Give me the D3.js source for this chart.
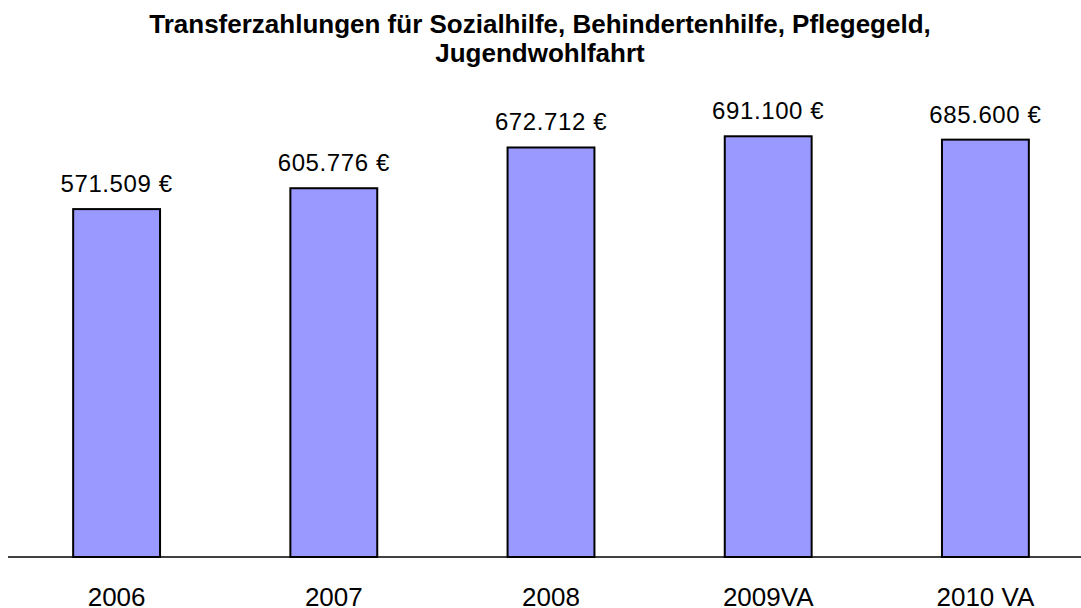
<!DOCTYPE html>
<html><head><meta charset="utf-8">
<script src="https://cdn.jsdelivr.net/npm/d3@7"></script>
<style>body{margin:0;background:#fff}svg{display:block}</style>
</head><body>
<svg id="c" width="1081" height="608"></svg>
<script>
const categories = ["2006", "2007", "2008", "2009VA", "2010 VA"];
const values = [571509, 605776, 672712, 691100, 685600];
const valueLabels = ["571.509 €", "605.776 €", "672.712 €", "691.100 €", "685.600 €"];
const titleLines = ["Transferzahlungen für Sozialhilfe, Behindertenhilfe, Pflegegeld,", "Jugendwohlfahrt"];

const svg = d3.select("#c");
const font = "Liberation Sans, Arial, sans-serif";
const baseY = 557;
const x = d3.scaleBand().domain(categories).range([8, 1094]).paddingInner(0.6).paddingOuter(0.3);
const y = d3.scaleLinear().domain([0, 800000]).range([baseY, 70]);

svg.selectAll("text.title").data(titleLines).join("text")
  .attr("class", "title")
  .attr("x", 540).attr("y", (d, i) => 33 + i * 29)
  .attr("text-anchor", "middle").attr("font-family", font)
  .attr("font-weight", "bold").attr("font-size", 26).text(d => d);

const data = categories.map((c, i) => ({c, v: values[i], l: valueLabels[i]}));

svg.selectAll("rect.bar").data(data).join("rect")
  .attr("class", "bar")
  .attr("x", d => x(d.c)).attr("y", d => y(d.v))
  .attr("width", x.bandwidth()).attr("height", d => baseY - y(d.v))
  .attr("fill", "#9999FF").attr("stroke", "#000").attr("stroke-width", 2);

svg.append("line").attr("x1", 8).attr("x2", 1081).attr("y1", baseY).attr("y2", baseY)
  .attr("stroke", "#000").attr("stroke-width", 1.3);

svg.selectAll("text.val").data(data).join("text")
  .attr("class", "val")
  .attr("x", d => x(d.c) + x.bandwidth() / 2).attr("y", d => y(d.v) - 17)
  .attr("text-anchor", "middle").attr("font-family", font).attr("font-size", 24)
  .attr("letter-spacing", 0.6)
  .text(d => d.l);

const xAxis = svg.append("g").attr("transform", `translate(0,${baseY})`)
  .call(d3.axisBottom(x).tickSize(0).tickPadding(0));
xAxis.select(".domain").remove();
xAxis.selectAll("text").attr("y", 49).attr("dy", 0).attr("font-family", font)
  .attr("font-size", 26).attr("fill", "#000");
</script>
</body></html>
